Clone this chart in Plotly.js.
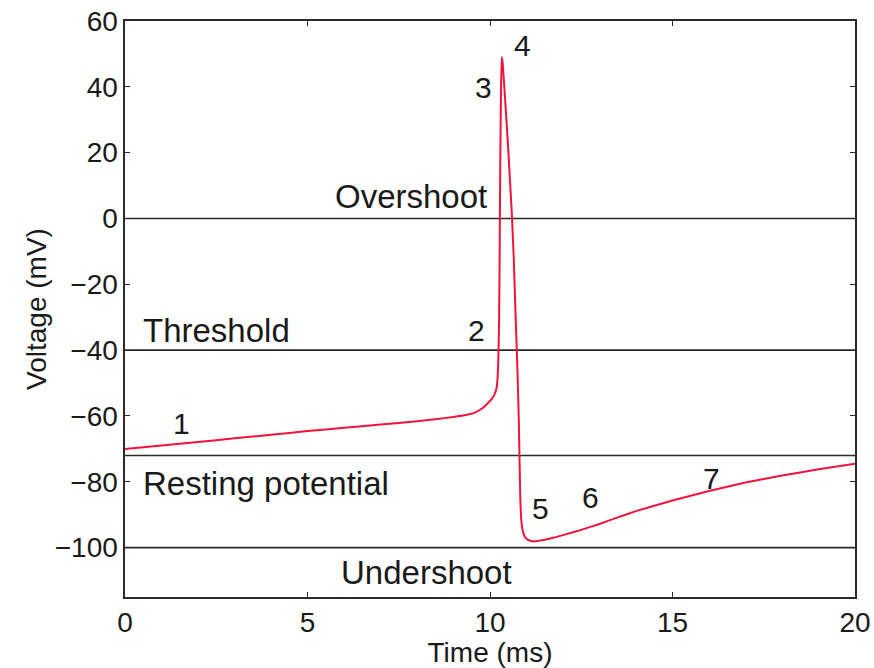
<!DOCTYPE html>
<html>
<head>
<meta charset="utf-8">
<script src="https://cdn.plot.ly/plotly-3.0.1.min.js"></script>
<style>html,body{margin:0;padding:0;background:#fff;}#chart{width:874px;height:668px;}</style>
</head>
<body>
<div id="chart"></div>
<script>
// Time (ms) and membrane voltage (mV)
const timeMs = [0, 1, 2, 3, 4, 5, 6, 7, 8, 8.5, 9, 9.3, 9.6, 9.8, 9.95, 10.05, 10.12, 10.18, 10.21,
  10.23, 10.25, 10.265, 10.28, 10.3, 10.32, 10.34, 10.38, 10.45, 10.5, 10.55, 10.6, 10.65, 10.7,
  10.74, 10.77, 10.79, 10.81, 10.83, 10.86, 10.9, 10.95, 11.0, 11.1, 11.2, 11.3, 11.5, 11.8, 12,
  12.5, 13, 13.5, 14, 15, 16, 17, 18, 19, 20];
const voltage = [-70.0, -69.0, -67.9, -66.8, -65.7, -64.6, -63.6, -62.6, -61.6, -61.0, -60.3, -59.8,
  -58.9, -57.6, -56.0, -54.8, -53.5, -51.5, -48, -42, -30, -10, 15, 38, 49, 48, 42, 30, 21, 11, 1,
  -12, -29, -42, -53, -62, -74, -85, -92, -95, -96.6, -97.3, -97.9, -98.1, -98.0, -97.6, -96.8,
  -96.2, -94.6, -92.8, -90.8, -88.9, -85.7, -82.8, -80.2, -78.1, -76.2, -74.5];

// Reference levels (mV) and their names
const levelValues = [0, -40, -72, -100];
const levelNames = ["Overshoot", "Threshold", "Resting potential", "Undershoot"];

// Phase numbers
const phaseLabels = ["1", "2", "3", "4", "5", "6", "7"];

const xTicks = [0, 5, 10, 15, 20];
const yTicks = [-100, -80, -60, -40, -20, 0, 20, 40, 60];

const FONT = "Liberation Sans, Arial, sans-serif";
const FS_TICK = 28, FS_TITLE = 28, FS_NUM = 30, FS_LEVEL = 33;

const traces = [];
levelValues.forEach(function (v) {
  traces.push({x: [0, 20], y: [v, v], mode: "lines", line: {color: "#2a2a2a", width: 1.6},
    hoverinfo: "skip", showlegend: false});
});
traces.push({x: timeMs, y: voltage, mode: "lines", line: {color: "#f0143c", width: 2, shape: "spline", smoothing: 0.3},
  showlegend: false});

// annotation placements (data coords)
const levelPos = [[7.84, 6.8, "center"], [0.45, -34.1, "left"], [0.45, -80.6, "left"], [8.25, -107.5, "center"]];
const phasePos = [[1.56, -62.4], [9.64, -34.1], [9.81, 39.7], [10.9, 52.5], [11.37, -88.2], [12.74, -84.9], [16.08, -79]];

const annotations = [];
levelNames.forEach(function (t, i) {
  annotations.push({x: levelPos[i][0], y: levelPos[i][1], text: t, showarrow: false,
    xanchor: levelPos[i][2], yanchor: "middle", font: {family: FONT, size: FS_LEVEL, color: "#1a1a1a"}});
});
phaseLabels.forEach(function (t, i) {
  annotations.push({x: phasePos[i][0], y: phasePos[i][1], text: t, showarrow: false,
    xanchor: "center", yanchor: "middle", font: {family: FONT, size: FS_NUM, color: "#1a1a1a"}});
});

const layout = {
  width: 874, height: 668,
  margin: {l: 125, r: 19, t: 21, b: 71},
  paper_bgcolor: "#fff", plot_bgcolor: "#fff",
  font: {family: FONT, size: FS_TICK, color: "#1a1a1a"},
  xaxis: {range: [0, 20], tickvals: xTicks, ticks: "inside", ticklen: 5, tickcolor: "#2a2a2a",
    showline: true, linecolor: "#2a2a2a", linewidth: 1.6, mirror: "ticks", showgrid: false, zeroline: false,
    title: {text: "Time (ms)", standoff: 0, font: {family: FONT, size: FS_TITLE}}, tickfont: {family: FONT, size: FS_TICK}},
  yaxis: {range: [-115, 60], tickvals: yTicks, ticktext: yTicks.map(function (v) { return v < 0 ? "\u2212" + (-v) : String(v); }),
    ticks: "inside", ticklen: 5, tickcolor: "#2a2a2a",
    showline: true, linecolor: "#2a2a2a", linewidth: 1.6, mirror: "ticks", showgrid: false, zeroline: false,
    title: {text: "Voltage (mV)", standoff: 0, font: {family: FONT, size: FS_TITLE}}, tickfont: {family: FONT, size: FS_TICK}},
  annotations: annotations
};

Plotly.newPlot("chart", traces, layout, {displayModeBar: false, staticPlot: true});
</script>
</body>
</html>
